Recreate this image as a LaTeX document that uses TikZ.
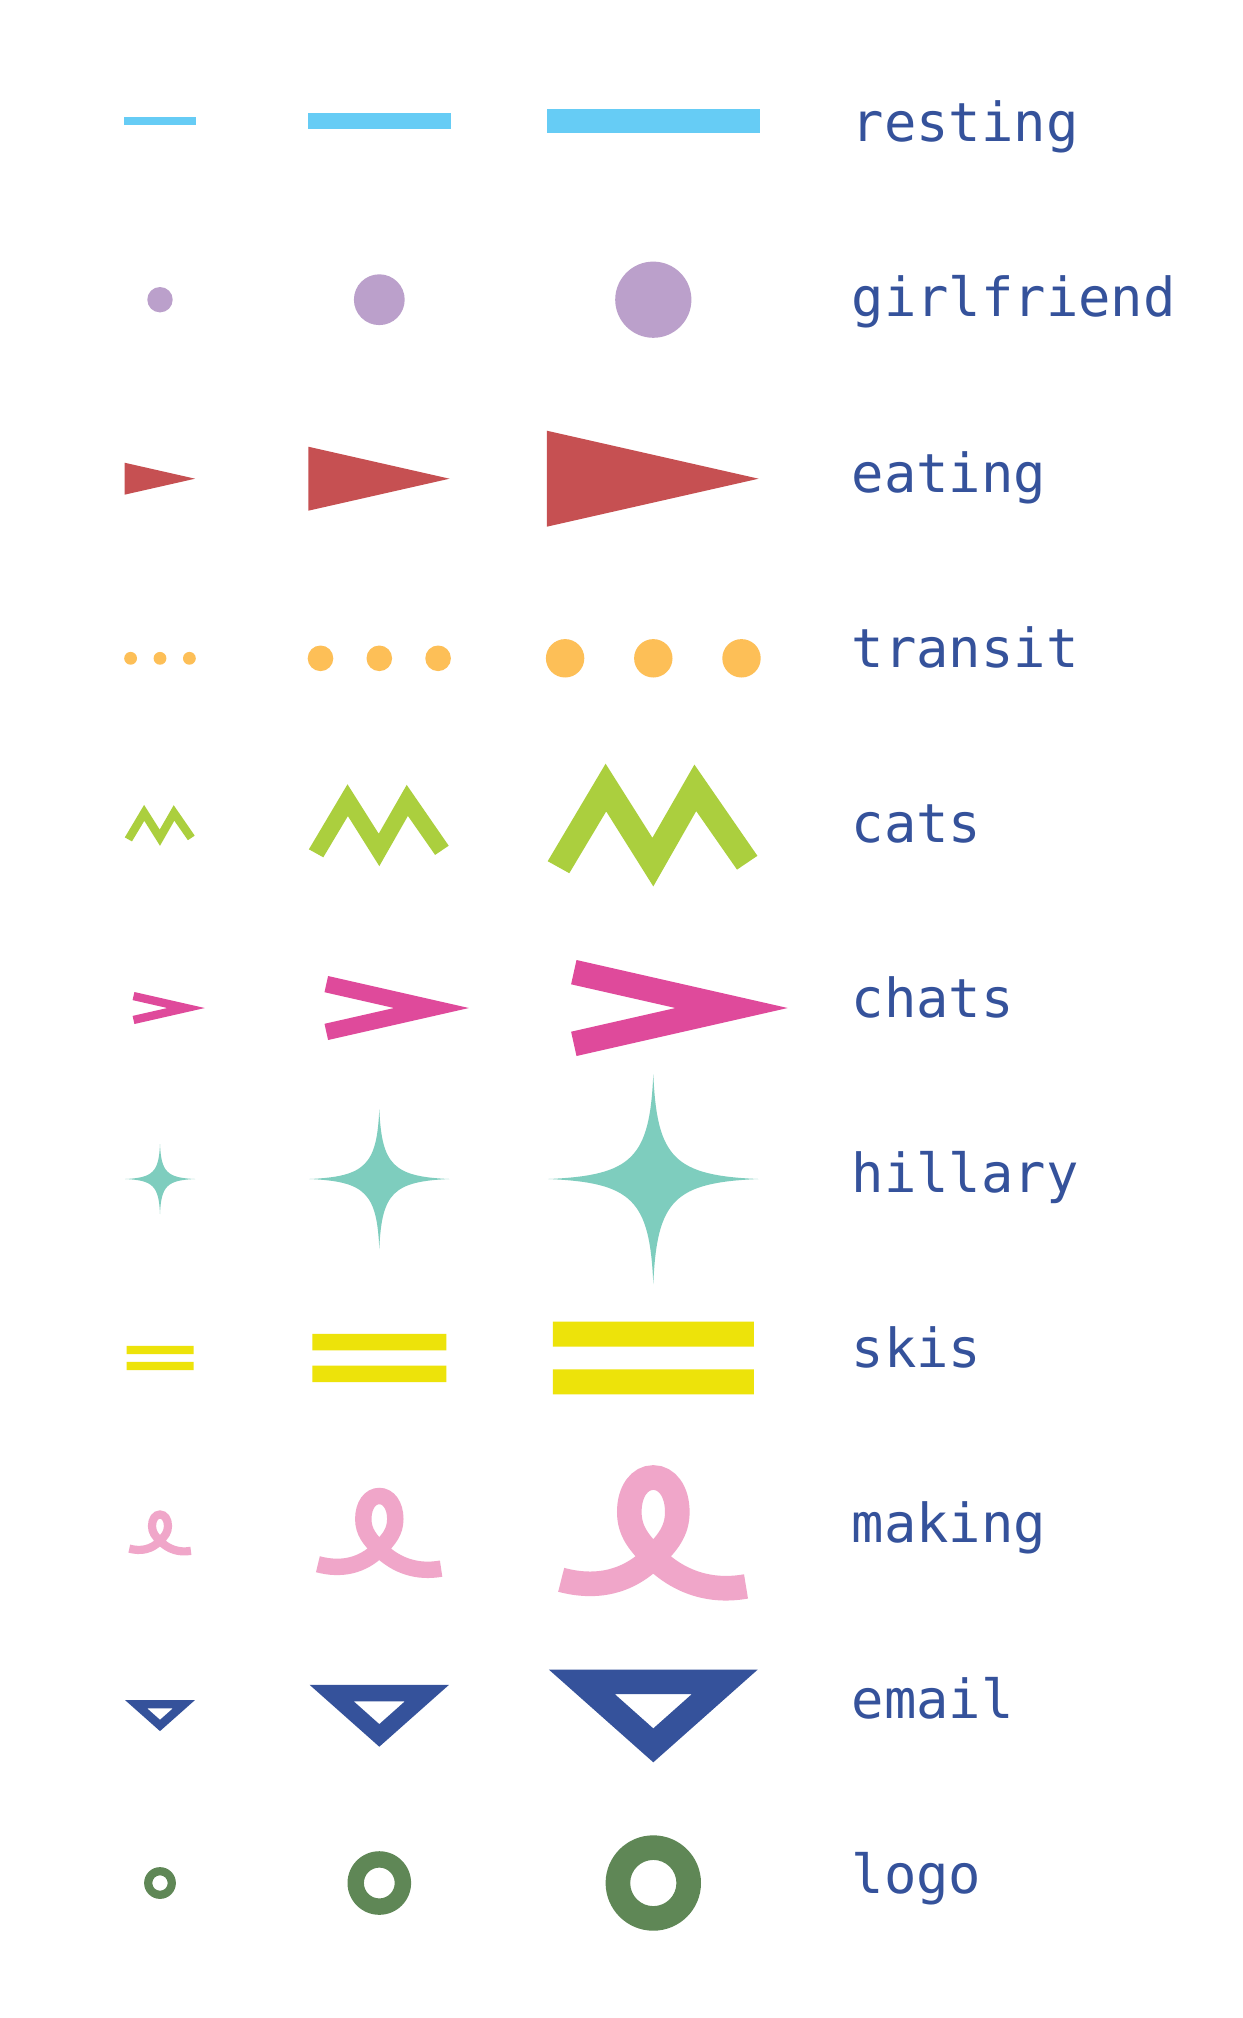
\documentclass[tikz,border=0pt]{standalone}
\usepackage{fontspec}
\usepackage{tikz}
\newfontfamily\labelfont{DejaVu Sans Mono}
\definecolor{ink}{RGB}{53,82,155}
\definecolor{restblue}{RGB}{102,204,245}
\definecolor{girllilac}{RGB}{187,160,203}
\definecolor{eatred}{RGB}{198,80,82}
\definecolor{transorange}{RGB}{253,191,87}
\definecolor{catgreen}{RGB}{171,207,62}
\definecolor{chatpink}{RGB}{223,74,155}
\definecolor{hillteal}{RGB}{126,205,190}
\definecolor{skiyellow}{RGB}{237,227,10}
\definecolor{makepink}{RGB}{240,166,201}
\definecolor{logogreen}{RGB}{95,135,86}

\begin{document}
\begin{tikzpicture}[x=0.01cm,y=-0.01cm,
    cell/.style={shift={(\cx,#1)},scale=\k},
    lbl/.style={anchor=base west,inner sep=0pt,text=ink,
      font=\labelfont\fontsize{15.3}{18}\selectfont}]
  \fill[white] (0,0) rectangle (1242,2018);
  \foreach \k/\cx in {1/160,2/379.3,3/653.3}{
    \fill[restblue,cell=121] (-35.6,-4.15) rectangle (35.6,4.15);
    \fill[girllilac,cell=299.7] (0,0) circle (12.7);
    \fill[eatred,cell=478.7] (-35.5,-16) -- (35.1,0) -- (-35.5,16) -- cycle;
    \foreach \dx in {-29.4,0,29.4}
      \fill[transorange,cell=658.3] (\dx,0) circle (6.4);
    \fill[catgreen,cell=825.5] (-35.2,11.9) -- (-15.9,-20.6) -- (-0.3,4.1)
      -- (13.7,-20.3) -- (34.7,10.1) -- (27.9,14.7) -- (14.3,-4.8)
      -- (0,20.3) -- (-15.7,-4.7) -- (-28,15.9) -- cycle;
    \fill[chatpink,cell=1008] (-25.6,-16) -- (44.8,0) -- (-25.6,16)
      -- (-27.4,7.9) -- (7.4,0) -- (-27.4,-7.9) -- cycle;
    \fill[hillteal,cell=1179] (0,-35) .. controls (1.2,-7) and (7,-1.2) .. (35,0)
      .. controls (7,1.2) and (1.2,7) .. (0,35)
      .. controls (-1.2,7) and (-7,1.2) .. (-35,0)
      .. controls (-7,-1.2) and (-1.2,-7) .. (0,-35) -- cycle;
    \fill[skiyellow,cell=1358] (-33.5,-12.1) rectangle (33.5,-3.8)
      (-33.5,3.8) rectangle (33.5,12.1);
    \draw[makepink,cell=1533,line width=\k*0.082cm]
      (-30.7,15.6) .. controls (-19.1,18.7) and (-8.5,16.5) .. (0,8)
      .. controls (4.6,3.4) and (8,-0.5) .. (8,-7)
      .. controls (8,-14) and (4.5,-18.5) .. (0,-18.5)
      .. controls (-4.5,-18.5) and (-8,-14) .. (-8,-7)
      .. controls (-8,-0.5) and (-4.6,3.4) .. (0,8)
      .. controls (8.5,16.5) and (19.1,19.9) .. (30.9,17.8);
    \fill[ink,even odd rule,cell=1715.5] (-34.8,-15.3) -- (34.8,-15.3) -- (0,15.6) -- cycle
      (-12.8,-7.1) -- (12.8,-7.1) -- (0,4.3) -- cycle;
    \fill[logogreen,even odd rule,cell=1883] (0,0) circle (15.9) circle (7.7);
  }
  \foreach \lab [count=\i from 0] in {resting,girlfriend,eating,transit,cats,
      chats,hillary,skis,making,email,logo}
    \node[lbl] (\lab) at (851,{141.7+175.16*\i}) {\lab};
\end{tikzpicture}
\end{document}
